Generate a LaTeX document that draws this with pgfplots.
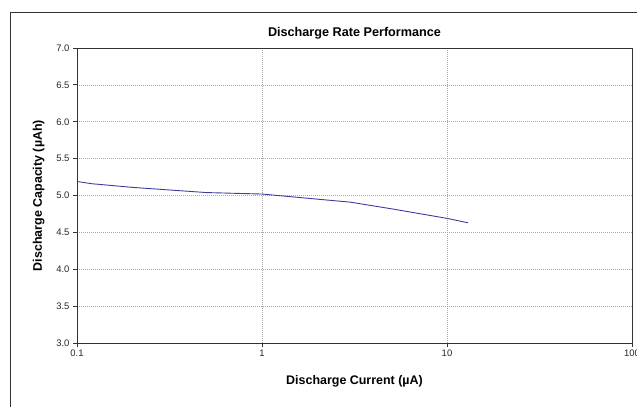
\documentclass[border=0pt]{standalone}
\usepackage{fontspec}
\setmainfont{Liberation Sans}
\usepackage{pgfplots}
\pgfplotsset{compat=1.18}
\definecolor{lineblue}{RGB}{60,60,160}
\definecolor{gridgray}{RGB}{170,170,170}
\begin{document}
\begin{tikzpicture}[x=1bp,y=1bp]
\useasboundingbox (-77,-63) rectangle (560,343);
% outer chart frame (right and bottom edges fall outside the picture)
\draw[black!80, line width=0.8bp] (-67,-70) -- (-67,331) -- (570,331);
\begin{axis}[
    at={(0,0)}, anchor=south west,
    scale only axis,
    width=555bp, height=295bp,
    xmode=log,
    xmin=0.1, xmax=100,
    ymin=3, ymax=7,
    ytick={3,3.5,...,7},
    log ticks with fixed point,
    yticklabel style={/pgf/number format/.cd, fixed, fixed zerofill, precision=1},
    /pgf/number format/assume math mode=true,
    tick label style={font=\fontsize{9.5}{11}\selectfont, text=black!85},
    xticklabel style={yshift=1bp},
    xmajorgrids, ymajorgrids, minor tick num=0,
    xminorgrids=false,
    minor x tick style={draw=none},
    grid style={gridgray, dash pattern=on 1bp off 1bp, line width=0.6bp},
    axis line style={black!80, line width=0.8bp},
    tick pos=left, tick align=outside,
    major tick length=4bp,
    tick style={black!80, line width=0.8bp},
    title={\textbf{Discharge Rate Performance}},
    title style={font=\fontsize{12.7}{15}\selectfont, at={(0.5,1)}, anchor=base, yshift=6bp},
    xlabel={\textbf{Discharge Current (µA)}},
    ylabel={\textbf{Discharge Capacity (µAh)}},
    label style={font=\fontsize{12.5}{15}\selectfont},
    xlabel style={yshift=-12bp},
    ylabel style={yshift=5bp},
]
\addplot[lineblue, line width=0.9bp, no marks] coordinates {
(0.1,5.19) (0.12,5.16) (0.2,5.11) (0.5,5.04) (1,5.02) (2,4.95) (3,4.91) (5,4.82) (10,4.69) (13,4.63)
};
\end{axis}
\end{tikzpicture}
\end{document}
